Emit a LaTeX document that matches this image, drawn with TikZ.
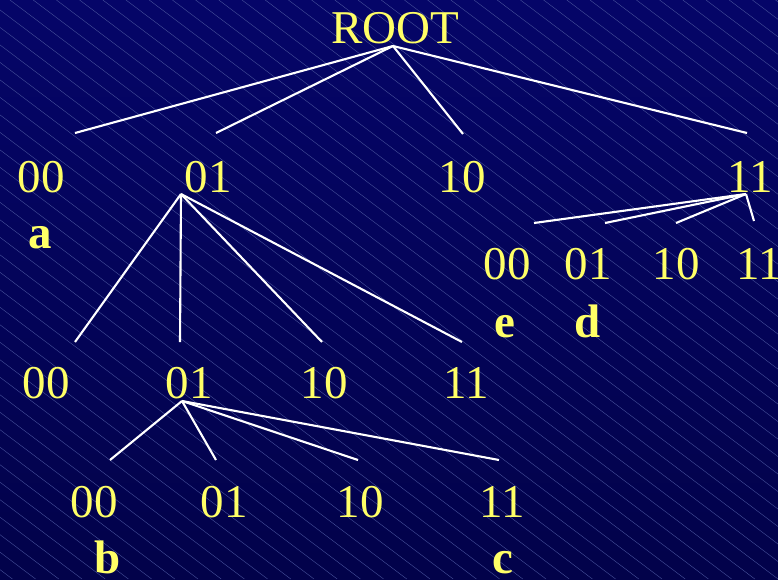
\documentclass[tikz,border=0pt]{standalone}
\usepackage{fontspec}
\setmainfont{Liberation Serif}
\begin{document}
\begin{tikzpicture}[x=1pt,y=-1pt,
  lbl/.style={text=labelyellow,font=\fontsize{47}{47}\selectfont,inner sep=0pt,anchor=base},
  tag/.style={lbl,font=\fontsize{47}{47}\selectfont\bfseries},
  edge/.style={draw=white,line width=2.1pt},
  hatch/.style={draw=hatchblue,line width=0.4pt}]
\definecolor{labelyellow}{RGB}{255,255,102}
\definecolor{bgtop}{RGB}{5,5,104}
\definecolor{bgbottom}{RGB}{2,2,74}
\definecolor{hatchblue}{RGB}{72,82,155}

% background with diagonal hatching
\useasboundingbox (0,0) rectangle (778,579);
\shade[top color=bgtop,bottom color=bgbottom] (0,0) rectangle (778,579);
\begin{scope}
  \clip (0,0) rectangle (778,579);
  \foreach \k in {-34,...,34}{
    \draw[hatch] ({10+23.2*\k},0) -- ({10+23.2*\k+768},579);
  }
\end{scope}

% root
\node[lbl] (root) at (395,43) {ROOT};

% first level
\node[lbl] (n00) at (41,192) {00};
\node[lbl] (n01) at (208,192) {01};
\node[lbl] (n10) at (462,192) {10};
\node[lbl] (n11) at (750,192) {11};
\node[tag] (ta) at (40,248) {a};

% second level under 01
\node[lbl] (m00) at (46,398) {00};
\node[lbl] (m01) at (189,398) {01};
\node[lbl] (m10) at (324,398) {10};
\node[lbl] (m11) at (466,398) {11};

% third level under 01/01
\node[lbl] (p00) at (94,517) {00};
\node[lbl] (p01) at (224,517) {01};
\node[lbl] (p10) at (360,517) {10};
\node[lbl] (p11) at (502,517) {11};
\node[tag] (tb) at (108,573) {b};
\node[tag] (tc) at (503,573) {c};

% second level under 11
\node[lbl] (q00) at (507,279) {00};
\node[lbl] (q01) at (588,279) {01};
\node[lbl] (q10) at (676,279) {10};
\node[lbl] (q11) at (759,279) {11};
\node[tag] (te) at (505,337) {e};
\node[tag] (td) at (588,337) {d};

% branch points and branch ends
\coordinate (rootfork) at (393,46);
\coordinate (r0) at (75,133);
\coordinate (r1) at (216,133);
\coordinate (r2) at (463,134);
\coordinate (r3) at (747,133);

\coordinate (afork) at (181,194);
\coordinate (a0) at (75,342);
\coordinate (a1) at (180,342);
\coordinate (a2) at (322,342);
\coordinate (a3) at (462,342);

\coordinate (bfork) at (182,401);
\coordinate (b0) at (110,460);
\coordinate (b1) at (216,460);
\coordinate (b2) at (358,460);
\coordinate (b3) at (499,460);

\coordinate (cfork) at (746,194);
\coordinate (c0) at (534,223);
\coordinate (c1) at (605,223);
\coordinate (c2) at (676,223);
\coordinate (c3) at (754,221);

\foreach \f/\p in {rootfork/r,afork/a,bfork/b,cfork/c}{
  \foreach \i in {0,...,3}{
    \draw[edge] (\f) -- (\p\i);
  }
}
\end{tikzpicture}
\end{document}
